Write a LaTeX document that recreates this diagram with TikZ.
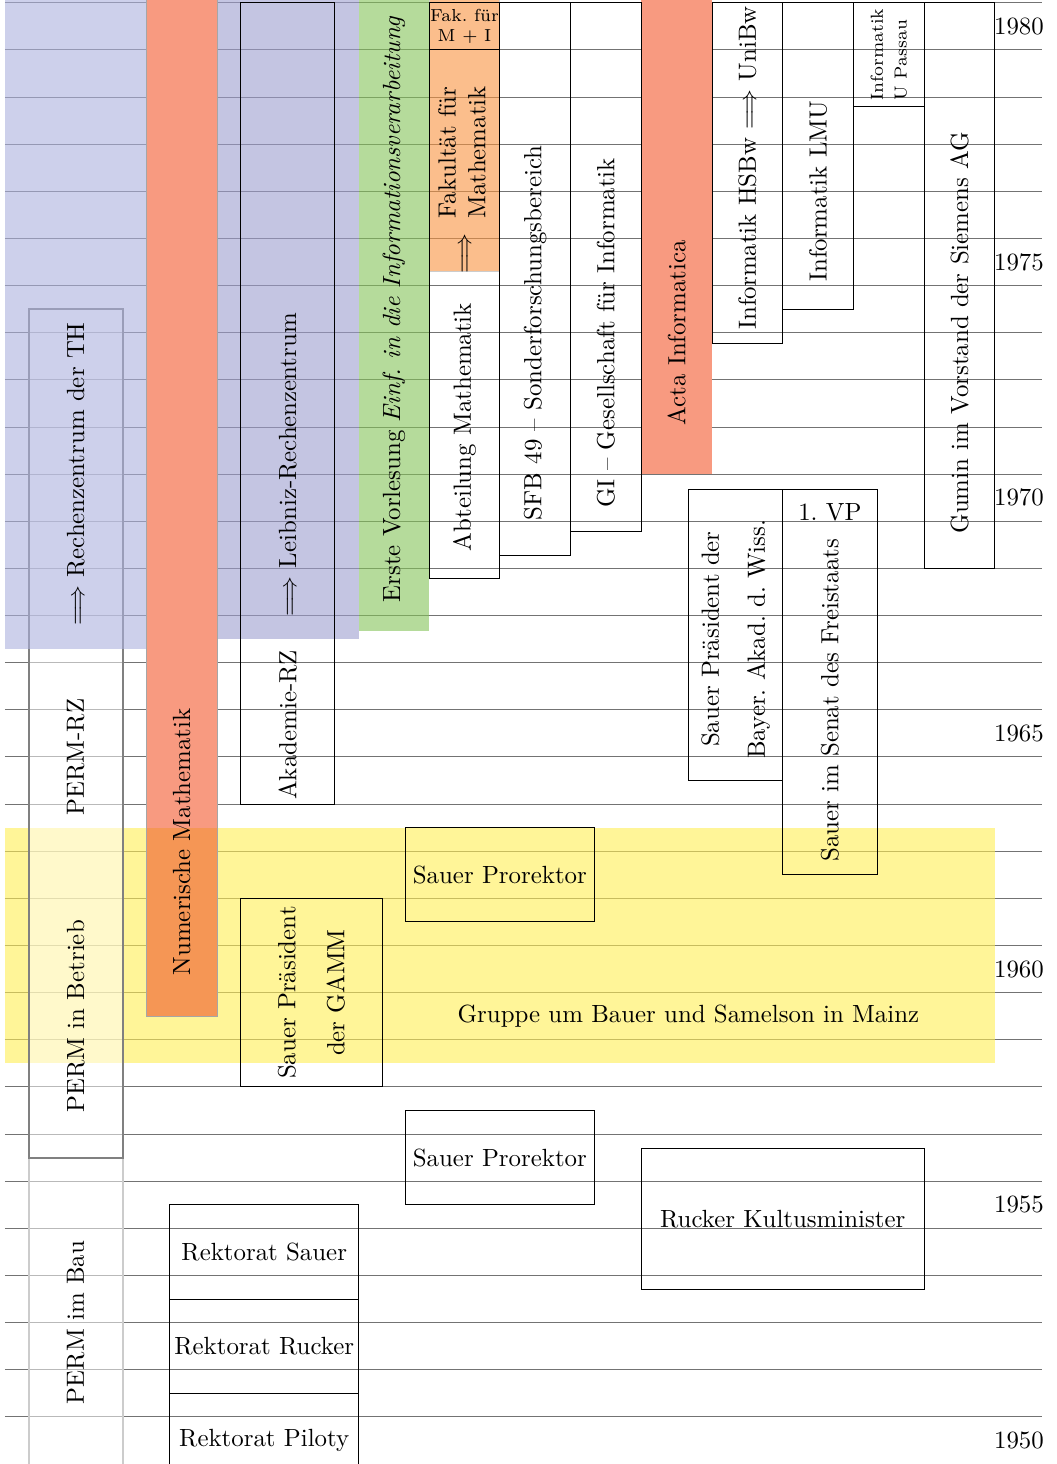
\documentclass[tikz,border=0pt]{standalone}
\usepackage{amsmath}
\usepackage{amssymb}
\usepackage{tikz}

\definecolor{blauhell}{RGB}{172,177,222}
\definecolor{blaudunkel}{RGB}{157,158,207}
\definecolor{lachs}{RGB}{248,154,128}
\definecolor{lachsgelb}{RGB}{245,150,85}
\definecolor{gruen}{RGB}{132,195,88}
\definecolor{fakorange}{RGB}{248,147,63}
\definecolor{gelb}{RGB}{255,238,83}

\begin{document}
\begin{tikzpicture}[thin, x=0.6663cm, y=0.6663cm,
		raster/.style={black!55, line width=0.4pt},
		kasten/.style={draw=black, line width=0.4pt},
		permkasten/.style={thick, fill=white, fill opacity=0.5},
		hoch/.style={rotate=90},
		jahr/.style={anchor=east, inner sep=0pt}]
	\useasboundingbox (-0.106,0) rectangle (22.3,31.06);

		% Raster und Jahreszahlen
			\foreach \j in {1,...,31}
				\draw[raster] (0,\j) -- (22,\j);
			\foreach \j/\jahrzahl in {0/1950,5/1955,10/1960,15/1965,20/1970,25/1975,30/1980}
				\node[jahr] (j\jahrzahl) at (22.05,\j+0.5) {\jahrzahl};

		% Mainz
			\fill[gelb, fill opacity=0.6] (0,8.5) rectangle (21,13.5);

		% PERM
			\draw[permkasten, draw=gray!40] (0.5,-0.5) rectangle (2.5,6.5);
			\draw[permkasten, draw=gray] (0.5,6.5) rectangle (2.5,24.5);

		% Flaechen
			\fill[blauhell, fill opacity=0.6] (0,17.3) rectangle (3,31.1);
			\fill[blaudunkel, fill opacity=0.6] (4.5,17.5) rectangle (7.5,31.1);
			\fill[lachs] (3,13.5) rectangle (4.5,31.1);
			\fill[lachsgelb] (3,9.5) rectangle (4.5,13.5);
			\draw[gray!70] (3,31.1) -- (3,9.5) -- (4.5,9.5) -- (4.5,31.1);
			\fill[gruen, fill opacity=0.6] (7.5,17.67) rectangle (9,31.1);
			\filldraw[fakorange, fill opacity=0.6, draw=black!20] (9,25.3) rectangle (10.5,31.1);
			\fill[lachs] (13.5,21) rectangle (15,31.1);

		% Kaesten
			\draw[kasten] (5,14) rectangle (7,31);
			\draw[kasten] (9,18.78) rectangle (10.5,31);
			\draw[kasten] (9,30) -- (10.5,30);
			\draw[kasten] (10.5,19.27) rectangle (12,31);
			\draw[kasten] (12,19.78) rectangle (13.5,31);
			\draw[kasten] (15,23.78) rectangle (16.5,31);
			\draw[kasten] (16.5,24.5) rectangle (18,31);
			\draw[kasten] (18,28.8) rectangle (19.5,31);
			\draw[kasten] (19.5,19) rectangle (21,31);
			\draw[kasten] (14.5,14.5) rectangle (16.5,20.67);
			\draw[kasten] (16.5,12.5) rectangle (18.5,20.67);
			\draw[kasten] (8.5,11.5) rectangle (12.5,13.5);
			\draw[kasten] (5,8) rectangle (8,12);
			\draw[kasten] (8.5,5.5) rectangle (12.5,7.5);
			\draw[kasten] (13.5,3.7) rectangle (19.5,6.7);
			\draw[kasten] (3.5,3.5) rectangle (7.5,5.5);
			\draw[kasten] (3.5,1.5) rectangle (7.5,3.5);
			\draw[kasten] (3.5,-0.5) rectangle (7.5,1.5);

		% Beschriftungen
			\node[hoch] (rz) at (1.5,21) {$\Longrightarrow$ Rechenzentrum der TH};
			\node[hoch] (permrz) at (1.5,15) {PERM-RZ};
			\node[hoch] (permbetrieb) at (1.5,9.5) {PERM in Betrieb};
			\node[hoch] (permbau) at (1.5,3) {PERM im Bau};
			\node[hoch] (nummath) at (3.75,13.2) {Numerische Mathematik};
			\node[hoch] (lrz) at (6,21.2) {$\Longrightarrow$ Leibniz-Rechenzentrum};
			\node[hoch] (akadrz) at (6,15.68) {Akademie-RZ};
			\node[hoch] (vorlesung) at (8.25,24.5) {Erste Vorlesung \emph{Einf.\ in die Informationsverarbeitung}};
			\node[align=center, font=\scriptsize] (fakmi) at (9.75,30.5) {Fak.\ für\\M + I};
			\node[hoch] (fakmath) at (9.75,27.4) {$\Longrightarrow$\begin{tabular}{c}Fakultät für\\Mathematik\end{tabular}};
			\node[hoch] (abtmath) at (9.75,22) {Abteilung Mathematik};
			\node[hoch] (sfb) at (11.25,24) {SFB 49 -- Sonderforschungsbereich};
			\node[hoch] (gi) at (12.75,24) {GI -- Gesellschaft für Informatik};
			\node[hoch] (acta) at (14.25,24) {Acta Informatica};
			\node[hoch] (hsbw) at (15.75,27.5) {Informatik HSBw $\Longrightarrow$ UniBw};
			\node[hoch] (lmu) at (17.25,27) {Informatik LMU};
			\node[hoch, align=left, font=\scriptsize] (passau) at (18.75,29.9) {Informatik\\[1.5pt]U Passau};
			\node[hoch] (gumin) at (20.25,24) {Gumin im Vorstand der Siemens AG};
			\node[hoch, align=center] (akadwiss) at (15.5,17.5) {Sauer Präsident der\\[6.5pt]Bayer.\ Akad.\ d.\ Wiss.};
			\node (vp) at (17.5,20.2) {1.\ VP};
			\node[hoch] (senat) at (17.5,16.2) {Sauer im Senat des Freistaats};
			\node (prorektorA) at (10.5,12.5) {Sauer Prorektor};
			\node[hoch, align=center] (gamm) at (6.5,10) {Sauer Präsident\\[7.7pt]der GAMM};
			\node (mainz) at (14.5,9.5) {Gruppe um Bauer und Samelson in Mainz};
			\node (prorektorB) at (10.5,6.5) {Sauer Prorektor};
			\node (kultus) at (16.5,5.2) {Rucker Kultusminister};
			\node (rsauer) at (5.5,4.5) {Rektorat Sauer};
			\node (rrucker) at (5.5,2.5) {Rektorat Rucker};
			\node (rpiloty) at (5.5,0.5) {Rektorat Piloty};
\end{tikzpicture}
\end{document}
